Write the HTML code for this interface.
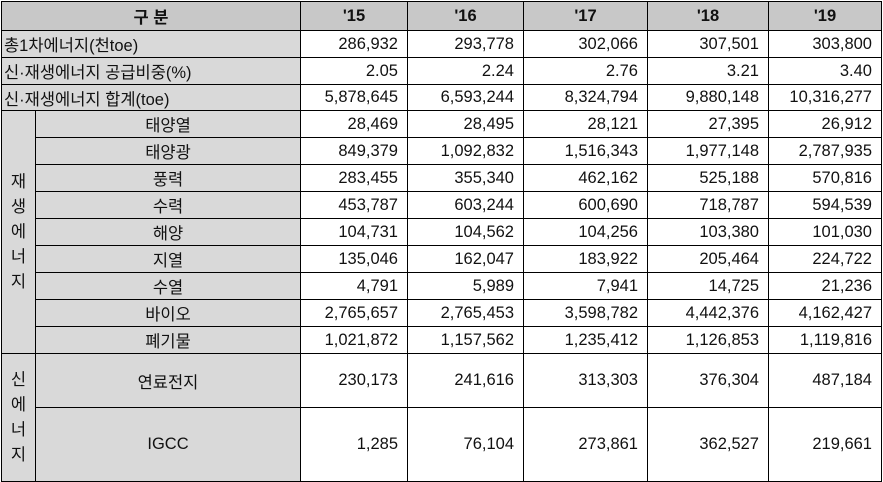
<!DOCTYPE html>
<html><head><meta charset="utf-8"><style>
body{margin:0;width:883px;height:482px;background:#fff;overflow:hidden}
.c{position:absolute;box-sizing:border-box;border:1px solid #000;font-family:"Liberation Sans","Noto Sans CJK KR",sans-serif;font-size:16.5px;color:#111;display:flex;align-items:center;white-space:nowrap;overflow:hidden}
.g{background:#d9d9d9}.h{background:#c8c8c8;font-weight:bold;justify-content:center}
.r{justify-content:flex-end;padding-right:9px}.m{justify-content:center}.l{padding-left:2px}
</style></head><body>
<div id="t"></div>
<script>
var X=[1,300,407,523,647,768,881];
var html='';
function cell(x,y,w,h,cls,txt){html+='<div class="c '+cls+'" style="left:'+x+'px;top:'+y+'px;width:'+(w+1)+'px;height:'+(h+1)+'px">'+txt+'</div>';}
cell(1,1,299,29,'h','구 분');
var hd=["'15","'16","'17","'18","'19"];
for(var i=0;i<5;i++)cell(X[i+1],1,X[i+2]-X[i+1],29,'h',hd[i]);
var rows=[
["총1차에너지(천toe)",["286,932","293,778","302,066","307,501","303,800"]],
["신·재생에너지 공급비중(%)",["2.05","2.24","2.76","3.21","3.40"]],
["신·재생에너지 합계(toe)",["5,878,645","6,593,244","8,324,794","9,880,148","10,316,277"]]];
var Y=[30,57,84,110];
rows.forEach(function(r,k){var y=Y[k],h=Y[k+1]-y;cell(1,y,299,h,'g l',r[0]);for(var i=0;i<5;i++)cell(X[i+1],y,X[i+2]-X[i+1],h,'r',r[1][i]);});
var sub=[
["태양열",["28,469","28,495","28,121","27,395","26,912"]],
["태양광",["849,379","1,092,832","1,516,343","1,977,148","2,787,935"]],
["풍력",["283,455","355,340","462,162","525,188","570,816"]],
["수력",["453,787","603,244","600,690","718,787","594,539"]],
["해양",["104,731","104,562","104,256","103,380","101,030"]],
["지열",["135,046","162,047","183,922","205,464","224,722"]],
["수열",["4,791","5,989","7,941","14,725","21,236"]],
["바이오",["2,765,657","2,765,453","3,598,782","4,442,376","4,162,427"]],
["폐기물",["1,021,872","1,157,562","1,235,412","1,126,853","1,119,816"]]];
cell(1,110,34,243,'g m','<div style="white-space:normal;width:18px;line-height:25px;text-align:center">재 생 에 너 지</div>');
sub.forEach(function(r,k){var y=110+k*27;cell(35,y,265,27,'g m',r[0]);for(var i=0;i<5;i++)cell(X[i+1],y,X[i+2]-X[i+1],27,'r',r[1][i]);});
cell(1,353,34,128,'g m','<div style="white-space:normal;width:18px;line-height:25px;text-align:center">신 에 너 지</div>');
var nw=[["연료전지",353,54,["230,173","241,616","313,303","376,304","487,184"]],["IGCC",407,74,["1,285","76,104","273,861","362,527","219,661"]]];
nw.forEach(function(r){cell(35,r[1],265,r[2],'g m',r[0]);for(var i=0;i<5;i++)cell(X[i+1],r[1],X[i+2]-X[i+1],r[2],'r',r[3][i]);});
document.getElementById('t').innerHTML=html;
</script>
</body></html>
